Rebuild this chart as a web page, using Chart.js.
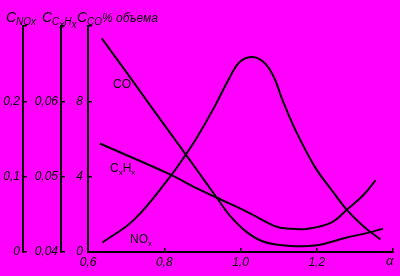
<!DOCTYPE html>
<html>
<head>
<meta charset="utf-8">
<script src="https://cdn.jsdelivr.net/npm/chart.js@4"></script>
<style>
  html, body { margin: 0; padding: 0; background: #ff00ff; }
</style>
</head>
<body>
<canvas id="chart" width="400" height="276"></canvas>
<script>
// values (x = alpha)
const alphaCO = [0.636, 0.703, 0.764, 0.823, 0.882, 0.938, 0.972, 1.015, 1.059, 1.118, 1.195, 1.279, 1.336, 1.374];
const co      = [11.35, 9.48, 7.76, 6.11, 4.46, 2.88, 1.93, 1.08, 0.56, 0.34, 0.34, 0.77, 1.03, 1.24];

const alphaHC = [0.631, 0.815, 0.887, 0.938, 1.015, 1.092, 1.126, 1.177, 1.238, 1.279, 1.323, 1.354];
const hc      = [0.0544, 0.0503, 0.0484, 0.0472, 0.0454, 0.0434, 0.0431, 0.0431, 0.0439, 0.0456, 0.0476, 0.0495];

const alphaNOx = [0.638, 0.721, 0.815, 0.856, 0.887, 0.931, 0.972, 0.997, 1.028, 1.059, 1.085, 1.110, 1.144, 1.195, 1.238, 1.279, 1.323, 1.367];
const nox      = [0.0126, 0.043, 0.0998, 0.129, 0.153, 0.192, 0.232, 0.252, 0.259, 0.253, 0.235, 0.202, 0.162, 0.113, 0.083, 0.056, 0.034, 0.0165];

const xTicks = [0.6, 0.8, 1.0, 1.2];

function pts(xs, ys) { return xs.map((x, i) => ({ x: x, y: ys[i] })); }
function comma(v, d) { return v.toFixed(d).replace('.', ','); }

const tickFont = { family: 'Liberation Sans', size: 12, style: 'italic' };

function line(data, axis) {
  return {
    data: data, yAxisID: axis,
    borderColor: '#000', borderWidth: 2, pointRadius: 0,
    tension: 0.4, fill: false
  };
}

// draws text with sub-levels: [[text, level], ...]
function rich(ctx, parts, x, y, size, italic) {
  parts.forEach(p => {
    const s = p[1] ? Math.round(size * 0.7) : size;
    ctx.font = (italic ? 'italic ' : '') + s + 'px "Liberation Sans"';
    ctx.fillText(p[0], x, y + p[1] * 3);
    x += ctx.measureText(p[0]).width;
  });
}

const texts = {
  id: 'texts',
  afterDraw(chart) {
    const ctx = chart.ctx;
    ctx.save();
    ctx.fillStyle = '#000';
    ctx.textBaseline = 'alphabetic';
    rich(ctx, [['C', 0], ['NOx', 1]], 6, 22, 14, true);
    rich(ctx, [['C', 0], ['C', 1], ['x', 2], ['H', 1], ['x', 2]], 42, 22, 14, true);
    rich(ctx, [['C', 0], ['CO', 1]], 77, 22, 14, true);
    rich(ctx, [['% объема', 0]], 102, 22, 12, true);
    rich(ctx, [['CO', 0]], 113, 88, 12, false);
    rich(ctx, [['C', 0], ['x', 1], ['H', 0], ['x', 1]], 110, 172, 12, false);
    rich(ctx, [['NO', 0], ['x', 1]], 130, 243, 12, false);
    rich(ctx, [['α', 0]], 386, 265, 13, true);
    ctx.restore();
  }
};

function yAxis(weight, min, max, step, width, pad, fmt) {
  return {
    type: 'linear', position: 'left', weight: weight,
    min: min, max: max,
    border: { color: '#000', width: 2 },
    grid: { drawOnChartArea: false, color: '#000', lineWidth: 1.5, tickLength: -4 },
    ticks: { stepSize: step, padding: pad, color: '#000', font: tickFont, callback: fmt },
    afterFit: s => { s.width = width; }
  };
}

new Chart(document.getElementById('chart'), {
  type: 'line',
  data: {
    datasets: [
      line(pts(alphaCO, co), 'yCO'),
      line(pts(alphaHC, hc), 'yHC'),
      line(pts(alphaNOx, nox), 'yNOx')
    ]
  },
  options: {
    responsive: false,
    animation: false,
    layout: { padding: { top: 26, right: 0, left: 0, bottom: 0 } },
    plugins: { legend: { display: false }, tooltip: { enabled: false } },
    scales: {
      x: {
        type: 'linear', min: 0.6, max: 1.4,
        border: { color: '#000', width: 2 },
        grid: { drawOnChartArea: false, color: '#000', lineWidth: 1.5, tickLength: -4 },
        ticks: {
          stepSize: 0.2, padding: 7, color: '#000', font: tickFont, maxRotation: 0,
          callback: v => xTicks.some(t => Math.abs(t - v) < 1e-6) ? comma(v, 1) : ''
        },
        afterFit: s => { s.height = 24; }
      },
      yCO: yAxis(0, 0, 12, 4, 27, 9, v => v > 11 ? '' : String(v)),
      yHC: yAxis(1, 0.04, 0.07, 0.01, 38, 7, v => v > 0.065 ? '' : comma(v, 2)),
      yNOx: yAxis(2, 0, 0.3, 0.1, 23, 7, v => v > 0.25 ? '' : (v === 0 ? '0' : comma(v, 1)))
    }
  },
  plugins: [texts]
});
</script>
</body>
</html>
